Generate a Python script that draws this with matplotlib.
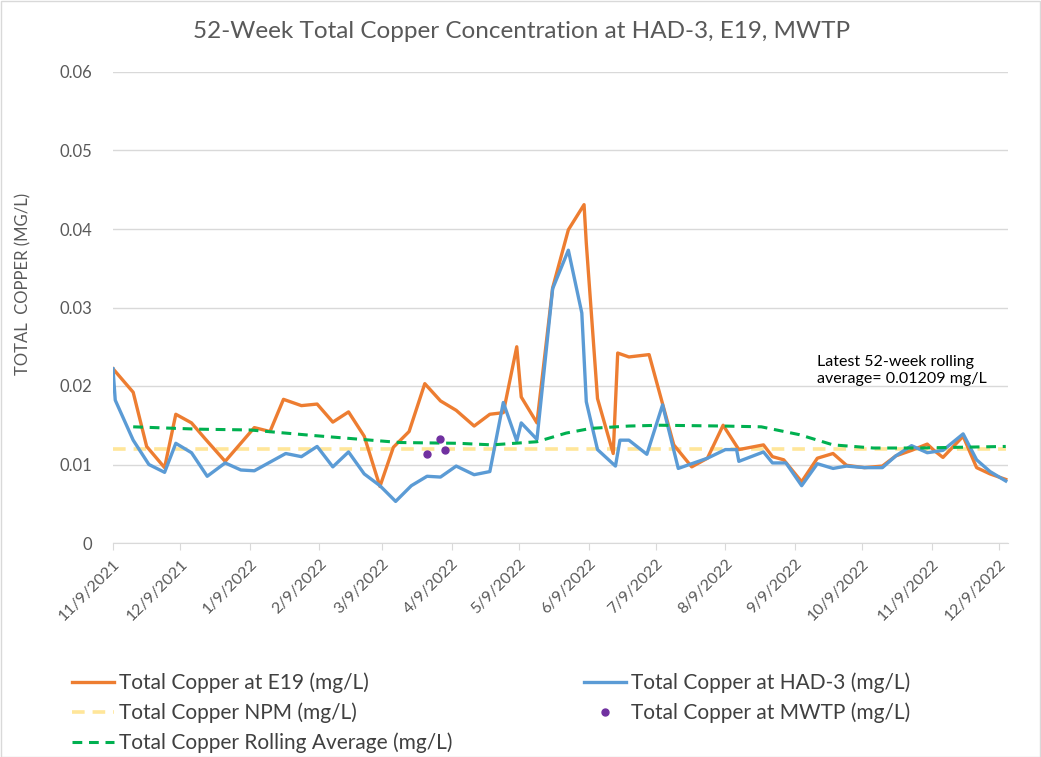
import matplotlib
matplotlib.use("Agg")
import matplotlib.pyplot as plt
import pandas as pd
from matplotlib.patches import Rectangle

plt.rcParams['font.family'] = ['Lato', 'DejaVu Sans']

# ---------------- data ----------------
e19_dates = ["2021-11-09", "2021-11-18", "2021-11-24", "2021-12-02", "2021-12-07", "2021-12-14",
             "2021-12-20", "2021-12-29", "2022-01-11", "2022-01-18", "2022-01-24", "2022-02-01",
             "2022-02-08", "2022-02-15", "2022-02-22", "2022-03-01", "2022-03-08", "2022-03-14",
             "2022-03-21", "2022-03-28", "2022-04-04", "2022-04-11", "2022-04-19", "2022-04-26",
             "2022-05-02", "2022-05-08", "2022-05-10", "2022-05-17", "2022-05-24", "2022-05-31",
             "2022-06-07", "2022-06-08", "2022-06-13", "2022-06-20", "2022-06-22", "2022-06-27",
             "2022-07-06", "2022-07-17", "2022-07-25", "2022-08-01", "2022-08-08", "2022-08-15",
             "2022-08-26", "2022-08-30", "2022-09-04", "2022-09-12", "2022-09-19", "2022-09-26",
             "2022-10-02", "2022-10-10", "2022-10-18", "2022-10-24", "2022-10-31", "2022-11-07",
             "2022-11-10", "2022-11-14", "2022-11-23", "2022-11-29", "2022-12-05", "2022-12-12"]
e19_values = [0.0222, 0.0192, 0.0123, 0.0096, 0.0164, 0.0153,
              0.0133, 0.0104, 0.0147, 0.0142, 0.0183, 0.0175,
              0.0177, 0.0154, 0.0167, 0.0136, 0.0072, 0.0122,
              0.0142, 0.0203, 0.0181, 0.0169, 0.0149, 0.0164,
              0.0166, 0.0250, 0.0186, 0.0153, 0.0325, 0.0399,
              0.0431, 0.0382, 0.0184, 0.0114, 0.0242, 0.0237,
              0.0240, 0.0125, 0.0097, 0.0108, 0.0150, 0.0119,
              0.0125, 0.0110, 0.0106, 0.0078, 0.0108, 0.0114,
              0.0099, 0.0096, 0.0098, 0.0111, 0.0118, 0.0126,
              0.0118, 0.0109, 0.0136, 0.0096, 0.0088, 0.0081]

had3_dates = ["2021-11-09", "2021-11-10", "2021-11-18", "2021-11-25", "2021-12-02", "2021-12-07",
              "2021-12-14", "2021-12-21", "2021-12-29", "2022-01-05", "2022-01-11", "2022-01-25",
              "2022-02-01", "2022-02-08", "2022-02-15", "2022-02-22", "2022-03-01", "2022-03-08",
              "2022-03-15", "2022-03-22", "2022-03-29", "2022-04-04", "2022-04-11", "2022-04-19",
              "2022-04-26", "2022-05-02", "2022-05-08", "2022-05-10", "2022-05-17", "2022-05-24",
              "2022-05-31", "2022-06-06", "2022-06-08", "2022-06-13", "2022-06-21", "2022-06-23",
              "2022-06-27", "2022-07-05", "2022-07-12", "2022-07-19", "2022-08-01", "2022-08-09",
              "2022-08-14", "2022-08-15", "2022-08-26", "2022-08-30", "2022-09-05", "2022-09-12",
              "2022-09-19", "2022-09-26", "2022-10-02", "2022-10-10", "2022-10-18", "2022-10-24",
              "2022-10-31", "2022-11-07", "2022-11-14", "2022-11-23", "2022-11-29", "2022-12-05",
              "2022-12-12"]
had3_values = [0.0222, 0.0182, 0.0131, 0.0100, 0.0090, 0.0127,
               0.0115, 0.0085, 0.0102, 0.0093, 0.0092, 0.0114,
               0.0110, 0.0123, 0.0097, 0.0116, 0.0088, 0.0073,
               0.0053, 0.0073, 0.0085, 0.0084, 0.0098, 0.0087,
               0.0091, 0.0179, 0.0130, 0.0153, 0.0132, 0.0324,
               0.0373, 0.0293, 0.0180, 0.0119, 0.0098, 0.0131,
               0.0131, 0.0113, 0.0176, 0.0095, 0.0108, 0.0119,
               0.0119, 0.0104, 0.0116, 0.0102, 0.0102, 0.0073,
               0.0101, 0.0095, 0.0098, 0.0096, 0.0096, 0.0111,
               0.0124, 0.0115, 0.0118, 0.0139, 0.0106, 0.0091,
               0.0079]

npm_dates = ["2021-11-09", "2022-12-12"]
npm_values = [0.0120, 0.0120]

mwtp_dates = ["2022-03-29", "2022-04-04", "2022-04-06"]
mwtp_values = [0.0113, 0.0133, 0.0119]

roll_dates = ["2021-11-18", "2021-12-17", "2022-01-09", "2022-02-06", "2022-03-17", "2022-04-12",
              "2022-04-27", "2022-05-17", "2022-05-30", "2022-06-10", "2022-06-27", "2022-07-11",
              "2022-08-08", "2022-08-25", "2022-09-11", "2022-09-26", "2022-10-14", "2022-11-03",
              "2022-12-12"]
roll_values = [0.0148, 0.0145, 0.0144, 0.0137, 0.0128, 0.0127,
               0.0125, 0.0129, 0.0140, 0.0146, 0.0149, 0.0150,
               0.0149, 0.0148, 0.0138, 0.0125, 0.0121, 0.0121,
               0.0123]

tick_dates = ["2021-11-09", "2021-12-09", "2022-01-09", "2022-02-09", "2022-03-09", "2022-04-09",
              "2022-05-09", "2022-06-09", "2022-07-09", "2022-08-09", "2022-09-09", "2022-10-09",
              "2022-11-09", "2022-12-09"]
tick_labels = ["11/9/2021", "12/9/2021", "1/9/2022", "2/9/2022", "3/9/2022", "4/9/2022",
               "5/9/2022", "6/9/2022", "7/9/2022", "8/9/2022", "9/9/2022", "10/9/2022",
               "11/9/2022", "12/9/2022"]
y_ticks = [0, 0.01, 0.02, 0.03, 0.04, 0.05, 0.06]
y_tick_labels = ["0", "0.01", "0.02", "0.03", "0.04", "0.05", "0.06"]

title = "52-Week Total Copper Concentration at HAD-3, E19, MWTP"
ylabel = "TOTAL  COPPER (MG/L)"
note = "Latest 52-week rolling\naverage= 0.01209 mg/L"

# ---------------- figure ----------------
W, H = 1041, 757
fig = plt.figure(figsize=(W / 100, H / 100), dpi=100)
ax = fig.add_axes([113 / W, 1 - 543 / H, (1008 - 113) / W, (543 - 72) / H])

d = pd.to_datetime
l_npm, = ax.plot(d(npm_dates), npm_values, color="#FFE699", lw=2.6, ls=(0, (3.5, 2.2)),
                 label="Total Copper NPM (mg/L)", zorder=2)
l_roll, = ax.plot(d(roll_dates), roll_values, color="#00B050", lw=2.2, ls=(0, (3.2, 2.2)),
                  label="Total Copper Rolling Average (mg/L)", zorder=5)
l_had, = ax.plot(d(had3_dates), had3_values, color="#5B9BD5", lw=2.4,
                 label="Total Copper at HAD-3 (mg/L)", zorder=4, solid_joinstyle="round")
l_e19, = ax.plot(d(e19_dates), e19_values, color="#ED7D31", lw=2.4,
                 label="Total Copper at E19 (mg/L)", zorder=3, solid_joinstyle="round")
l_mw, = ax.plot(d(mwtp_dates), mwtp_values, ls="none", marker="o", ms=5,
                color="#7030A0", label="Total Copper at MWTP (mg/L)", zorder=6)

ax.set_xlim(d("2021-11-09"), d("2022-12-13"))
ax.set_ylim(0, 0.06)
ax.set_yticks(y_ticks)
ax.set_yticklabels(y_tick_labels)
ax.set_xticks(d(tick_dates))
ax.set_xticklabels(tick_labels, rotation=45, ha="right", va="top", rotation_mode="anchor")

ax.grid(axis="y", color="#D9D9D9", lw=1)
ax.set_axisbelow(True)
for s in ["top", "right", "left"]:
    ax.spines[s].set_visible(False)
ax.spines["bottom"].set_color("#D9D9D9")
ax.tick_params(axis="y", length=0, pad=15, labelsize=12, labelcolor="#595959")
ax.tick_params(axis="x", length=5, color="#D9D9D9", pad=5, labelsize=11.5, labelcolor="#595959")

fig.text(23 / W, 1 - 284 / H, ylabel, rotation=90, ha="center", va="center",
         fontsize=12, color="#595959")
fig.text(522 / W, 1 - 32 / H, title, ha="center", va="center", fontsize=17.5, color="#595959")
ax.text(d("2022-09-19"), 0.0240, note, ha="left", va="top", fontsize=11.5, color="black",
        linespacing=1.35)

leg_kw = dict(frameon=False, fontsize=15, handlelength=2.0, handletextpad=0.25,
              labelspacing=0.45, borderpad=0, labelcolor="#404040")
leg1 = fig.legend(handles=[l_e19, l_npm, l_roll], loc="upper left",
                  bbox_to_anchor=(62 / W, 1 - 662 / H), **leg_kw)
leg2 = fig.legend(handles=[l_had, l_mw], loc="upper left",
                  bbox_to_anchor=(574 / W, 1 - 662 / H), **leg_kw)

fig.patches.append(Rectangle((0.5 / W, 0.5 / H), 1 - 1.5 / W, 1 - 1.5 / H, transform=fig.transFigure,
                             fill=False, edgecolor="#D9D9D9", lw=1))

fig.savefig("out.png", dpi=100)
